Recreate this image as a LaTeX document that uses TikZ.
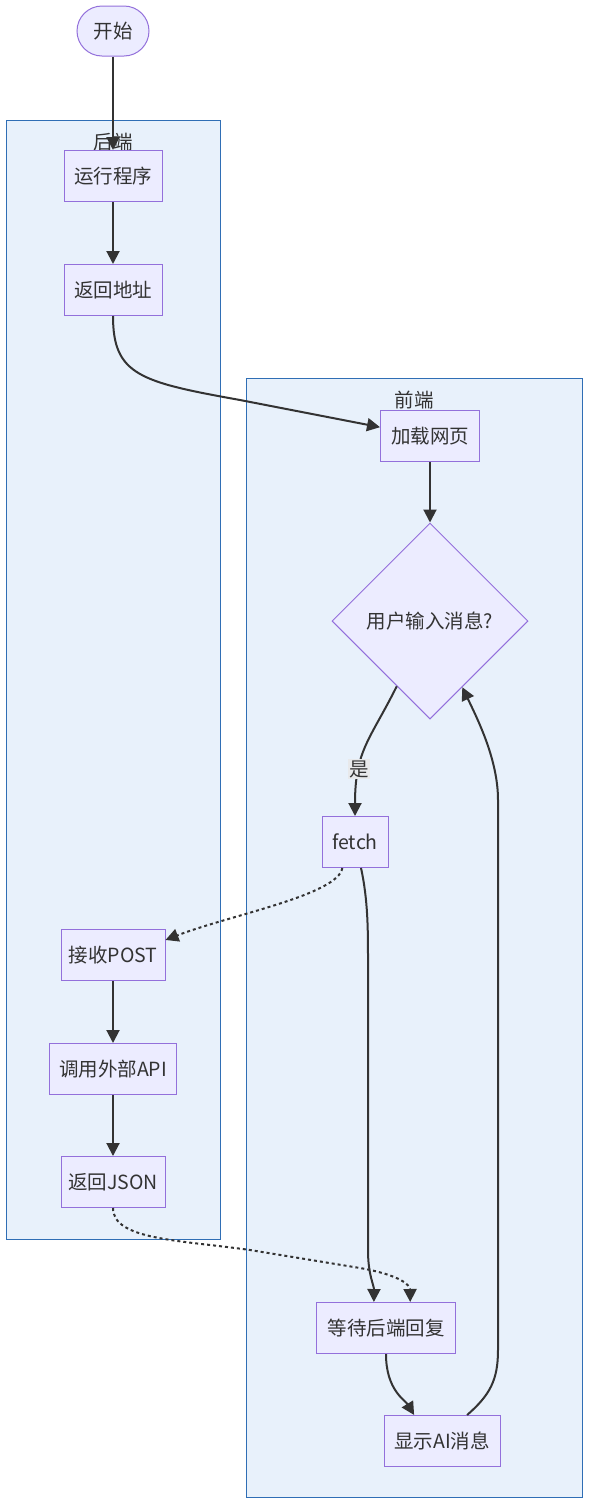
\documentclass[tikz,border=0pt]{standalone}
\usepackage{fontspec}
\setmainfont{Noto Sans CJK SC}
\usetikzlibrary{arrows.meta,shapes.geometric,positioning}
\definecolor{nodefill}{HTML}{ECECFF}
\definecolor{nodeline}{HTML}{9370DB}
\definecolor{groupfill}{HTML}{E8F1FB}
\definecolor{groupline}{HTML}{2F6EB5}
\definecolor{edgecol}{HTML}{333333}
\definecolor{labelbg}{HTML}{E8E9EB}
\tikzset{
  box/.style={rectangle, draw=nodeline, fill=nodefill, line width=1pt, text=edgecol,
    minimum height=51pt, inner xsep=0pt, font=\fontsize{19.5}{23}\selectfont},
  decision/.style={diamond, draw=nodeline, fill=nodefill, line width=1pt, text=edgecol,
    minimum width=196pt, minimum height=196pt, inner sep=0pt, font=\fontsize{19.5}{23}\selectfont},
  group/.style={draw=groupline, fill=groupfill, line width=1pt},
  grouptitle/.style={text=edgecol, font=\fontsize{19.5}{23}\selectfont},
  flow/.style={draw=edgecol, line width=2pt, -{Triangle[length=13pt,width=13pt]}},
  dotflow/.style={flow, dash pattern=on 3pt off 3pt},
}
\begin{document}
\begin{tikzpicture}[x=1pt, y=-1pt]
  \useasboundingbox (0,0) rectangle (590,1505);
  % Grupos
  \draw[group] (6,120) rectangle (220,1239);
  \node[grouptitle] (backtitle) at (113,142) {后端};
  \draw[group] (246,378) rectangle (582,1497);
  \node[grouptitle] (fronttitle) at (414,400) {前端};
  % Nos
  \node[box, rounded corners=25pt, minimum width=72pt, minimum height=50pt] (start) at (113,31) {开始};
  \node[box, minimum width=98pt] (run) at (113,176) {运行程序};
  \node[box, minimum width=98pt] (addr) at (113,290) {返回地址};
  \node[box, minimum width=99pt] (load) at (430,436) {加载网页};
  \node[decision] (ask) at (430,621) {用户输入消息?};
  \node[box, minimum width=66pt] (fetch) at (355,842) {fetch};
  \node[box, minimum width=104pt] (post) at (113,955) {接收POST};
  \node[box, minimum width=127pt] (api) at (113,1069) {调用外部API};
  \node[box, minimum width=104pt] (json) at (113,1182) {返回JSON};
  \node[box, minimum width=139pt] (wait) at (386,1328) {等待后端回复};
  \node[box, minimum width=116pt] (show) at (442,1441) {显示AI消息};
  % Ligacoes do backend
  \draw[flow] (start.south) -- (run.north);
  \draw[flow] (run.south) -- (addr.north);
  \draw[flow] (addr.south) .. controls (113,375) and (140,382) .. (240,400) -- (load.170);
  \draw[flow] (post.south) -- (api.north);
  \draw[flow] (api.south) -- (json.north);
  % Ligacoes do frontend
  \draw[flow] (load.south) -- (ask.north);
  \draw[flow] (ask.243) .. controls (370,740) and (355,750) .. (fetch.north)
    node[pos=0.7, fill=labelbg, text=edgecol, inner sep=1pt, font=\fontsize{19.5}{23}\selectfont] {是};
  \draw[dotflow] (fetch.244) .. controls (338,895) and (230,915) .. (post.16);
  \draw[flow] (fetch.-77) .. controls (368,900) and (368,930) .. (368,960) -- (368,1250)
    .. controls (368,1275) and (374,1285) .. (wait.115);
  \draw[dotflow] (json.south) .. controls (113,1240) and (180,1240) .. (250,1250) -- (360,1268)
    .. controls (400,1275) and (410,1285) .. (wait.47);
  \draw[flow] (wait.south) .. controls (386,1390) and (405,1400) .. (show.137);
  \draw[flow] (show.46) .. controls (490,1395) and (498,1380) .. (498,1350) -- (498,800)
    .. controls (498,760) and (478,720) .. (ask.-64);
\end{tikzpicture}
\end{document}
